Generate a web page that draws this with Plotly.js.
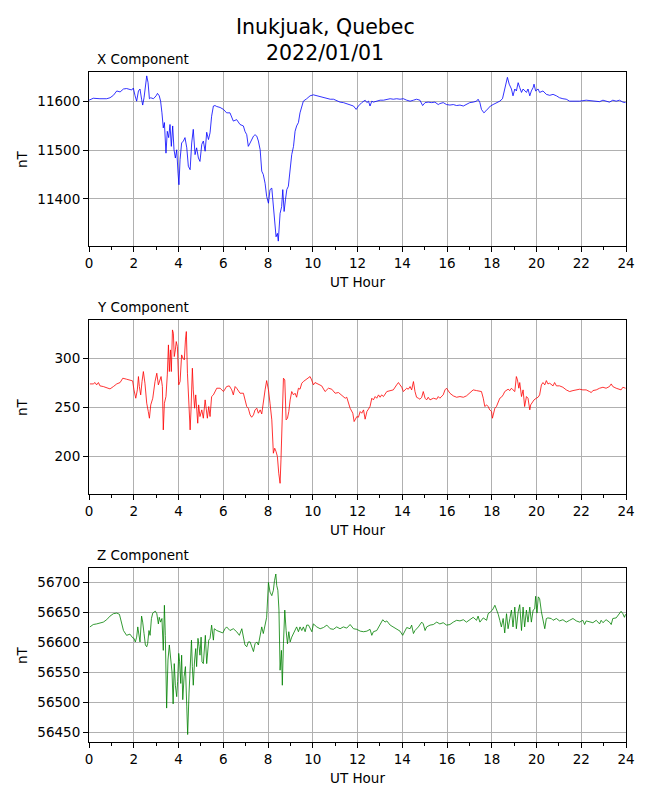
<!DOCTYPE html>
<html>
<head>
<meta charset="utf-8">
<script src="https://cdn.plot.ly/plotly-3.0.1.min.js"></script>
<style>html,body{margin:0;padding:0;background:#fff;}#chart{width:650px;height:800px;}</style>
</head>
<body>
<div id="chart"></div>
<script>
// ---- X component (nT) ----
const xHours = [0,0.19,0.49,0.79,0.94,1.09,1.24,1.39,1.54,1.68,1.91,1.98,2.06,2.13,2.21,2.28,2.35,2.40,2.46,2.53,2.58,2.64,2.70,2.76,2.88,3.00,3.06,3.14,3.20,3.26,3.32,3.37,3.44,3.50,3.56,3.62,3.68,3.74,3.80,3.86,3.92,3.98,4.02,4.07,4.14,4.22,4.29,4.37,4.44,4.52,4.59,4.66,4.74,4.81,4.89,4.96,5.04,5.11,5.19,5.26,5.34,5.41,5.48,5.56,5.63,5.71,5.86,6.01,6.15,6.30,6.45,6.60,6.75,6.90,6.97,7.05,7.12,7.20,7.27,7.35,7.42,7.50,7.57,7.65,7.72,7.79,7.87,7.94,8.02,8.09,8.17,8.24,8.32,8.36,8.42,8.46,8.54,8.61,8.66,8.72,8.78,8.84,8.91,8.99,9.06,9.14,9.21,9.28,9.36,9.43,9.51,9.58,9.73,9.88,10.03,10.18,10.33,10.48,10.63,10.78,10.93,11.08,11.22,11.37,11.52,11.67,11.82,11.94,12.04,12.19,12.34,12.42,12.49,12.56,12.64,12.71,12.86,13.01,13.16,13.31,13.46,13.60,13.75,13.90,14.05,14.20,14.35,14.50,14.64,14.79,14.91,15.02,15.16,15.31,15.46,15.61,15.68,15.83,15.98,16.13,16.28,16.43,16.58,16.73,16.87,17.02,17.17,17.32,17.39,17.47,17.54,17.65,17.74,17.84,17.94,18.06,18.21,18.36,18.48,18.55,18.63,18.70,18.78,18.88,18.95,19.03,19.10,19.18,19.25,19.33,19.40,19.47,19.55,19.62,19.70,19.77,19.85,19.89,19.96,20.07,20.14,20.29,20.44,20.59,20.74,20.89,21.03,21.18,21.33,21.48,21.63,21.93,22.22,22.52,22.82,22.97,23.11,23.26,23.41,23.56,23.71,23.86,23.98];
const xValues = [11603,11607,11606,11606,11608,11613,11622,11620,11626,11627,11624,11628,11612,11601,11622,11626,11605,11593,11608,11636,11653,11639,11606,11608,11606,11612,11617,11612,11601,11577,11546,11557,11494,11539,11526,11553,11508,11550,11501,11484,11501,11453,11429,11481,11515,11519,11526,11505,11467,11460,11515,11543,11491,11505,11484,11477,11512,11519,11498,11537,11522,11536,11570,11591,11592,11590,11588,11584,11577,11577,11560,11563,11553,11550,11539,11532,11508,11515,11522,11529,11532,11529,11519,11501,11457,11450,11432,11405,11391,11419,11422,11384,11357,11322,11329,11313,11370,11384,11419,11374,11398,11419,11426,11467,11491,11508,11539,11550,11557,11577,11588,11601,11606,11612,11614,11612,11610,11608,11606,11605,11605,11601,11599,11598,11596,11594,11591,11584,11591,11598,11603,11598,11601,11591,11601,11599,11601,11603,11603,11605,11606,11605,11606,11605,11606,11603,11601,11603,11605,11603,11592,11598,11599,11598,11599,11594,11596,11598,11594,11593,11594,11592,11593,11591,11594,11598,11599,11601,11605,11598,11584,11577,11581,11586,11591,11594,11598,11601,11606,11619,11632,11650,11636,11626,11612,11626,11622,11639,11629,11619,11626,11622,11619,11626,11612,11622,11629,11636,11622,11626,11619,11622,11615,11613,11615,11612,11608,11606,11605,11601,11601,11601,11603,11601,11600,11603,11601,11599,11603,11601,11603,11599,11598];

// ---- Y component (nT) ----
const yHours = [0.04,0.19,0.27,0.34,0.42,0.49,0.64,0.79,0.94,1.09,1.24,1.39,1.51,1.68,1.83,1.95,2.01,2.09,2.16,2.21,2.25,2.31,2.37,2.43,2.50,2.58,2.65,2.70,2.76,2.85,2.95,3.03,3.10,3.17,3.22,3.28,3.32,3.37,3.44,3.50,3.55,3.59,3.64,3.68,3.73,3.77,3.81,3.86,3.90,3.95,4.01,4.07,4.14,4.20,4.26,4.31,4.35,4.40,4.46,4.52,4.56,4.62,4.66,4.72,4.77,4.81,4.86,4.90,4.96,5.04,5.11,5.19,5.23,5.29,5.35,5.41,5.48,5.56,5.71,5.86,6.01,6.08,6.15,6.27,6.38,6.45,6.53,6.60,6.75,6.90,6.97,7.05,7.12,7.20,7.27,7.35,7.42,7.50,7.57,7.65,7.72,7.79,7.87,7.94,8.02,8.09,8.17,8.24,8.30,8.36,8.42,8.48,8.54,8.58,8.64,8.69,8.75,8.81,8.87,8.93,8.99,9.06,9.14,9.21,9.28,9.36,9.43,9.51,9.58,9.73,9.88,9.95,10.03,10.10,10.25,10.40,10.55,10.70,10.85,11.00,11.15,11.30,11.45,11.52,11.67,11.79,11.85,11.97,12.04,12.12,12.19,12.27,12.34,12.42,12.56,12.64,12.71,12.79,12.86,12.94,13.01,13.08,13.16,13.31,13.46,13.60,13.75,13.83,13.90,13.98,14.05,14.12,14.20,14.27,14.35,14.42,14.50,14.57,14.64,14.72,14.79,14.87,14.94,15.02,15.09,15.16,15.24,15.39,15.54,15.61,15.68,15.83,15.91,15.98,16.06,16.13,16.28,16.43,16.58,16.73,16.87,17.02,17.10,17.17,17.32,17.47,17.54,17.62,17.69,17.77,17.84,17.91,17.99,18.03,18.09,18.14,18.21,18.29,18.36,18.43,18.51,18.58,18.66,18.73,18.81,18.88,18.95,19.03,19.10,19.15,19.21,19.25,19.33,19.40,19.47,19.55,19.62,19.70,19.74,19.82,19.89,19.99,20.07,20.14,20.22,20.29,20.37,20.44,20.51,20.59,20.74,20.81,20.89,21.03,21.18,21.33,21.48,21.63,21.78,21.93,22.07,22.22,22.37,22.45,22.52,22.67,22.82,22.97,23.11,23.26,23.34,23.41,23.56,23.71,23.78,23.86,23.98];
const yValues = [273.8,273.8,275.2,272.8,275.2,271.8,271.1,270.1,268.7,271.1,273.8,275.2,279.6,278.6,277.9,276.9,267.7,259.2,267.7,281.3,271.1,262.6,276.2,286.4,274.5,254.1,245.6,238.8,252.4,259.2,276.2,284.7,272.8,277.9,281.3,271.1,226.9,254.1,260.9,283.0,313.6,286.4,308.5,286.4,328.9,325.5,301.7,308.5,317.0,311.9,272.8,276.2,303.4,300.0,298.3,318.7,327.2,284.7,254.1,226.9,247.3,289.8,267.7,249.0,262.6,247.3,233.7,252.4,240.5,247.3,238.8,257.5,249.0,238.8,250.7,240.5,260.9,262.6,269.4,269.4,266.0,269.4,271.1,271.8,267.7,262.6,271.1,269.4,264.3,264.3,257.5,250.7,249.0,242.2,239.8,242.2,247.3,249.0,243.9,247.3,243.2,257.5,267.7,277.2,267.7,254.1,237.1,203.1,208.2,204.8,199.7,182.7,172.4,196.3,247.3,279.6,277.9,237.1,238.8,245.6,257.5,266.0,262.6,264.3,260.2,269.4,268.4,274.5,276.2,278.9,281.3,277.9,272.8,275.2,273.8,271.8,266.0,269.4,268.4,264.3,265.0,261.6,259.2,260.2,249.0,243.9,235.4,240.5,239.8,245.6,243.9,247.3,237.8,245.6,250.7,259.2,257.5,260.9,259.2,262.6,260.2,262.6,260.9,266.0,267.0,267.7,272.8,275.2,272.8,270.4,266.0,267.7,269.4,268.4,271.1,267.7,276.2,266.0,260.2,259.2,258.2,260.2,266.0,259.2,257.5,260.2,257.5,259.2,258.2,260.9,259.2,262.6,267.7,269.4,266.0,264.3,261.6,260.2,260.9,260.2,261.6,264.3,266.0,267.7,267.0,266.0,266.0,259.2,250.7,252.4,250.7,247.3,245.6,238.8,245.6,249.0,250.7,255.8,259.2,260.2,262.6,266.0,267.7,268.4,267.0,269.4,267.7,266.0,281.3,277.9,269.4,275.2,260.9,267.7,250.7,260.9,259.2,247.3,252.4,255.8,257.5,259.2,260.2,262.6,272.8,275.2,272.8,277.2,273.8,274.5,271.8,275.2,271.8,271.8,270.4,267.7,266.0,267.0,267.7,268.4,267.7,267.7,266.0,265.0,267.0,267.7,269.4,270.4,269.4,271.1,273.8,271.1,269.4,268.4,267.7,270.4,269.4];

// ---- Z component (nT) ----
const zHours = [0.04,0.12,0.19,0.34,0.49,0.64,0.79,0.94,1.09,1.24,1.36,1.46,1.54,1.68,1.83,1.95,2.01,2.07,2.13,2.18,2.22,2.28,2.35,2.40,2.46,2.52,2.58,2.62,2.68,2.73,2.79,2.85,2.91,2.97,3.03,3.10,3.14,3.20,3.26,3.32,3.37,3.41,3.47,3.53,3.59,3.65,3.71,3.76,3.81,3.86,3.92,3.96,4.01,4.05,4.10,4.14,4.19,4.25,4.31,4.37,4.41,4.47,4.52,4.58,4.62,4.66,4.72,4.77,4.81,4.87,4.92,4.96,5.01,5.05,5.11,5.16,5.20,5.26,5.31,5.35,5.41,5.48,5.56,5.60,5.71,5.86,5.98,6.08,6.15,6.30,6.45,6.60,6.72,6.83,6.90,6.97,7.05,7.12,7.20,7.27,7.35,7.42,7.50,7.57,7.65,7.72,7.79,7.87,7.94,8.02,8.09,8.17,8.24,8.29,8.35,8.39,8.44,8.49,8.54,8.60,8.64,8.69,8.75,8.81,8.87,8.93,8.99,9.06,9.14,9.21,9.28,9.36,9.43,9.51,9.58,9.66,9.73,9.81,9.88,9.96,10.03,10.18,10.33,10.48,10.63,10.78,10.92,11.07,11.22,11.37,11.52,11.67,11.82,11.97,12.12,12.27,12.42,12.56,12.64,12.71,12.86,12.94,13.01,13.13,13.23,13.31,13.46,13.60,13.75,13.90,14.02,14.12,14.20,14.35,14.42,14.50,14.57,14.72,14.87,14.94,15.02,15.09,15.24,15.39,15.54,15.68,15.83,15.98,16.13,16.28,16.43,16.58,16.73,16.87,17.02,17.17,17.32,17.39,17.47,17.62,17.77,17.84,17.94,18.03,18.14,18.21,18.29,18.36,18.43,18.51,18.58,18.66,18.73,18.81,18.88,18.95,19.03,19.10,19.18,19.25,19.33,19.40,19.47,19.55,19.62,19.70,19.77,19.85,19.92,19.96,20.02,20.08,20.14,20.22,20.29,20.37,20.44,20.51,20.66,20.74,20.89,21.03,21.18,21.33,21.48,21.63,21.78,21.93,22.07,22.15,22.22,22.37,22.52,22.67,22.82,22.89,22.97,23.11,23.26,23.34,23.41,23.56,23.71,23.78,23.86,23.93,23.98];
const zValues = [56626,56629,56630,56631,56633,56634,56638,56644,56648,56649,56647,56634,56620,56612,56614,56608,56607,56601,56609,56626,56618,56601,56644,56634,56615,56596,56593,56598,56620,56612,56640,56649,56651,56652,56648,56631,56642,56634,56640,56587,56662,56612,56491,56571,56596,56565,56551,56498,56565,56529,56510,56535,56582,56568,56532,56579,56505,56543,56560,56493,56447,56516,56571,56604,56560,56529,56571,56590,56560,56607,56593,56579,56609,56568,56565,56601,56612,56565,56587,56604,56607,56629,56604,56623,56620,56618,56616,56623,56626,56620,56623,56618,56612,56623,56612,56596,56593,56601,56601,56593,56585,56598,56601,56596,56609,56626,56615,56631,56642,56700,56684,56678,56687,56703,56714,56695,56687,56654,56554,56587,56529,56598,56654,56620,56598,56618,56601,56609,56615,56620,56626,56618,56626,56620,56626,56618,56629,56629,56623,56618,56631,56626,56623,56625,56629,56623,56622,56626,56623,56626,56624,56630,56623,56622,56619,56618,56619,56622,56612,56618,56620,56626,56631,56638,56634,56636,56629,56626,56623,56619,56612,56620,56625,56623,56629,56615,56620,56626,56634,56631,56620,56626,56629,56630,56634,56631,56633,56629,56630,56634,56637,56636,56638,56634,56638,56642,56637,56644,56634,56641,56637,56648,56651,56654,56662,56656,56647,56637,56626,56640,56616,56648,56623,56640,56654,56626,56659,56623,56651,56663,56620,56659,56626,56654,56634,56659,56634,56654,56656,56677,56649,56676,56673,56651,56637,56623,56640,56641,56640,56637,56640,56636,56638,56634,56637,56640,56636,56634,56637,56630,56636,56634,56633,56637,56631,56637,56633,56638,56634,56630,56640,56641,56649,56652,56648,56642,56647];

const hourTicks = [0,2,4,6,8,10,12,14,16,18,20,22,24];
const panelTitles = ["X Component", "Y Component", "Z Component"];
const mainTitle = ["Inukjuak, Quebec", "2022/01/01"];
const xLabel = "UT Hour";
const yLabel = "nT";

const FONT = "DejaVu Sans, Liberation Sans, sans-serif";
const W = 650, H = 800;
const fx = px => px / W;
const fy = py => 1 - py / H;

const traces = [
  {x: xHours, y: xValues, xaxis: 'x', yaxis: 'y', type: 'scatter', mode: 'lines', line: {color: 'blue', width: 0.8}},
  {x: yHours, y: yValues, xaxis: 'x2', yaxis: 'y2', type: 'scatter', mode: 'lines', line: {color: 'red', width: 0.8}},
  {x: zHours, y: zValues, xaxis: 'x3', yaxis: 'y3', type: 'scatter', mode: 'lines', line: {color: 'green', width: 0.8}}
];

function xAxis(anchor) {
  return {
    domain: [fx(89), fx(626)], anchor: anchor, range: [0, 24],
    tickvals: hourTicks, ticktext: hourTicks.map(String),
    ticks: 'outside', ticklen: 5, tickwidth: 1, tickcolor: 'black',
    minor: {dtick: 1, tick0: 0, ticks: 'outside', ticklen: 3, tickwidth: 1, tickcolor: 'black', showgrid: false},
    showgrid: true, gridcolor: '#b0b0b0', gridwidth: 1,
    showline: true, mirror: true, linecolor: 'black', linewidth: 1,
    zeroline: false, tickfont: {family: FONT, size: 13.5, color: 'black'}, fixedrange: true
  };
}
function yAxis(anchor, top, bottom, range, dtick) {
  return {
    domain: [fy(bottom), fy(top)], anchor: anchor, range: range,
    dtick: dtick, tick0: 0, tickformat: 'd',
    ticks: 'outside', ticklen: 5, tickwidth: 1, tickcolor: 'black',
    showgrid: true, gridcolor: '#b0b0b0', gridwidth: 1,
    showline: true, mirror: true, linecolor: 'black', linewidth: 1,
    zeroline: false, tickfont: {family: FONT, size: 13.5, color: 'black'}, fixedrange: true
  };
}

const panels = [{top: 72, bottom: 246}, {top: 320, bottom: 494}, {top: 568, bottom: 742}];
const annotations = [];
annotations.push({text: mainTitle[0], x: 0.5, y: fy(27), xref: 'paper', yref: 'paper', xanchor: 'center', yanchor: 'middle', showarrow: false, font: {family: FONT, size: 20.5, color: 'black'}});
annotations.push({text: mainTitle[1], x: 0.5, y: fy(53), xref: 'paper', yref: 'paper', xanchor: 'center', yanchor: 'middle', showarrow: false, font: {family: FONT, size: 20.5, color: 'black'}});
panels.forEach((p, i) => {
  annotations.push({text: panelTitles[i], x: fx(95), y: fy(p.top - 13), xref: 'paper', yref: 'paper', xanchor: 'left', yanchor: 'middle', showarrow: false, font: {family: FONT, size: 13.5, color: 'black'}});
  annotations.push({text: yLabel, x: fx(22), y: fy((p.top + p.bottom) / 2), xref: 'paper', yref: 'paper', xanchor: 'center', yanchor: 'middle', textangle: -90, showarrow: false, font: {family: FONT, size: 13.5, color: 'black'}});
  annotations.push({text: xLabel, x: fx(357.5), y: fy(p.bottom + 36), xref: 'paper', yref: 'paper', xanchor: 'center', yanchor: 'middle', showarrow: false, font: {family: FONT, size: 13.5, color: 'black'}});
});

const layout = {
  width: W, height: H,
  margin: {l: 0, r: 0, t: 0, b: 0},
  paper_bgcolor: 'white', plot_bgcolor: 'white',
  showlegend: false,
  xaxis: xAxis('y'), xaxis2: xAxis('y2'), xaxis3: xAxis('y3'),
  yaxis: yAxis('x', 72, 246, [11303, 11661], 100),
  yaxis2: yAxis('x2', 320, 494, [161.5, 339], 50),
  yaxis3: yAxis('x3', 568, 742, [56434.6, 56724], 50),
  annotations: annotations
};

Plotly.newPlot('chart', traces, layout, {staticPlot: true, displayModeBar: false});
</script>
</body>
</html>
